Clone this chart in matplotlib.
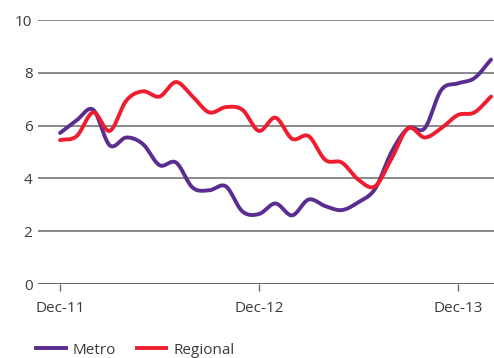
import numpy as np
import matplotlib
matplotlib.use("Agg")
import matplotlib.pyplot as plt
from matplotlib.lines import Line2D

# monthly readings, Dec-11 .. Feb-14
months = np.arange(27)
metro = [5.72, 6.2, 6.6, 5.25, 5.55, 5.3, 4.5, 4.6, 3.65, 3.55, 3.7, 2.75,
         2.65, 3.05, 2.6, 3.2, 2.95, 2.8, 3.1, 3.6, 5.0, 5.9, 5.9, 7.35,
         7.6, 7.8, 8.5]
regional = [5.45, 5.6, 6.5, 5.8, 6.95, 7.3, 7.1, 7.65, 7.1, 6.5, 6.7, 6.6,
            5.8, 6.3, 5.5, 5.6, 4.7, 4.6, 3.95, 3.7, 4.75, 5.9, 5.55, 5.9,
            6.4, 6.5, 7.1]
tick_pos = [0, 12, 24]
tick_labels = ["Dec-11", "Dec-12", "Dec-13"]

METRO_C = "#5b2d90"
REGIONAL_C = "#ee1d2f"
TEXT_C = "#3a3a3a"


def smooth(x, y, n=20):
    # Catmull-Rom through every point, like a spreadsheet "smoothed line"
    x = np.asarray(x, float)
    y = np.asarray(y, float)
    px = np.concatenate([[2 * x[0] - x[1]], x, [2 * x[-1] - x[-2]]])
    py = np.concatenate([[2 * y[0] - y[1]], y, [2 * y[-1] - y[-2]]])
    xs, ys = [], []
    t = np.linspace(0, 1, n, endpoint=False)
    for i in range(1, len(px) - 2):
        for p, out in ((px, xs), (py, ys)):
            p0, p1, p2, p3 = p[i - 1], p[i], p[i + 1], p[i + 2]
            out.append(0.5 * (2 * p1 + (-p0 + p2) * t
                              + (2 * p0 - 5 * p1 + 4 * p2 - p3) * t ** 2
                              + (-p0 + 3 * p1 - 3 * p2 + p3) * t ** 3))
    xs.append([x[-1]])
    ys.append([y[-1]])
    return np.concatenate(xs), np.concatenate(ys)


plt.rcParams["font.family"] = ["Open Sans", "DejaVu Sans"]

fig = plt.figure(figsize=(4.94, 3.58), dpi=100)
ax = fig.add_axes([38 / 494, 1 - 284 / 358, 1 - 38 / 494, 264 / 358])

for val in [2, 4, 6, 8, 10]:
    ax.axhline(val, color="#6a6a6a", lw=1.1, zorder=1)
ax.axhline(0, color="#4a4a4a", lw=1.2, zorder=1)

mx, my = smooth(months, metro)
rx, ry = smooth(months, regional)
ax.plot(mx, my, color=METRO_C, lw=2.8, solid_capstyle="round", zorder=3)
ax.plot(rx, ry, color=REGIONAL_C, lw=2.8, solid_capstyle="round", zorder=4)

ax.set_xlim(-1.33, 26.18)
ax.set_ylim(0, 10)
ax.set_yticks([0, 2, 4, 6, 8, 10])
ax.set_xticks(tick_pos)
ax.set_xticklabels(tick_labels)
for s in ax.spines.values():
    s.set_visible(False)
ax.tick_params(axis="y", length=0, pad=4, labelsize=11, labelcolor=TEXT_C)
ax.tick_params(axis="x", length=5, width=1, color="#6a6a6a", direction="out",
               pad=7, labelsize=11, labelcolor=TEXT_C)

handles = [Line2D([], [], color=METRO_C, lw=2.8),
           Line2D([], [], color=REGIONAL_C, lw=2.8)]
fig.legend(handles, ["Metro", "Regional"], loc="center left",
           bbox_to_anchor=(36 / 494, 1 - 350 / 358), ncol=2, frameon=False,
           fontsize=11, handlelength=1.95, handletextpad=0.45,
           columnspacing=1.35, labelcolor=TEXT_C, borderaxespad=0,
           borderpad=0)

fig.savefig("out.png", dpi=100)
